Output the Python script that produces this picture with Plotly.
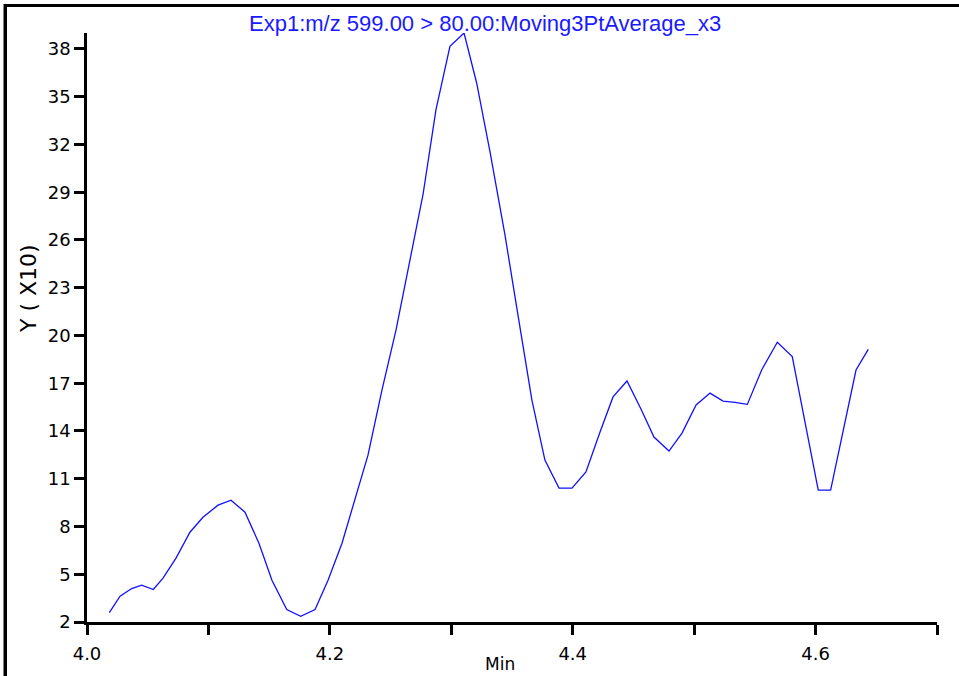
import plotly.graph_objects as go

# Retention time (min) and intensity (Y x10)
time_min = [4.0184, 4.0272, 4.0368, 4.0450, 4.0546, 4.0626, 4.0733, 4.0848, 4.0955, 4.1079,
            4.1186, 4.1301, 4.1416, 4.1523, 4.1645, 4.1760, 4.1878, 4.1985, 4.2100, 4.2207,
            4.2314, 4.2429, 4.2545, 4.2660, 4.2767, 4.2874, 4.2989, 4.3105, 4.3209, 4.3319,
            4.3442, 4.3549, 4.3664, 4.3771, 4.3887, 4.3994, 4.4109, 4.4225, 4.4332, 4.4447,
            4.4562, 4.4669, 4.4793, 4.4900, 4.5016, 4.5131, 4.5238, 4.5336, 4.5438, 4.5556,
            4.5685, 4.5808, 4.5913, 4.6022, 4.6124, 4.6215, 4.6333, 4.6434]
intensity = [2.59, 3.62, 4.10, 4.31, 4.04, 4.75, 6.01, 7.64, 8.58, 9.34,
             9.65, 8.90, 6.95, 4.62, 2.78, 2.36, 2.78, 4.62, 6.95, 9.65,
             12.48, 16.57, 20.35, 24.75, 28.84, 34.18, 38.16, 39.0, 35.86, 31.54,
             26.32, 21.29, 15.94, 12.17, 10.41, 10.41, 11.42, 13.93, 16.14, 17.14,
             15.38, 13.62, 12.74, 13.87, 15.63, 16.38, 15.88, 15.80, 15.67, 17.83,
             19.57, 18.67, 14.57, 10.28, 10.28, 13.53, 17.83, 19.13]

x_tick_vals = [4.0, 4.1, 4.2, 4.3, 4.4, 4.5, 4.6, 4.7]
x_tick_text = ["4.0", "", "4.2", "", "4.4", "", "4.6", ""]
y_tick_vals = [2, 5, 8, 11, 14, 17, 20, 23, 26, 29, 32, 35, 38]

title_text = "Exp1:m/z 599.00 > 80.00:Moving3PtAverage_x3"

W, H = 959, 676
L, R, T, B = 87, 22, 33, 54
pw, ph = W - L - R, H - T - B


def px_x(px):
    return (px - L) / pw


def px_y(py):
    return (H - B - py) / ph


fig = go.Figure()
fig.add_trace(go.Scatter(x=time_min, y=intensity, mode="lines",
                         line=dict(color="#1010ff", width=1.3),
                         showlegend=False, hoverinfo="x+y"))

tick_font = dict(family="DejaVu Sans", size=18, color="black")

fig.update_layout(
    width=W, height=H,
    margin=dict(l=L, r=R, t=T, b=B, pad=0),
    paper_bgcolor="white", plot_bgcolor="white",
    xaxis=dict(range=[4.0, 4.7], tickmode="array", tickvals=x_tick_vals, ticktext=x_tick_text,
               showgrid=False, zeroline=False, showline=True, linecolor="black", linewidth=2.5,
               ticks="outside", ticklen=10, tickwidth=2.5, tickcolor="black",
               tickfont=tick_font, ticklabelstandoff=4),
    yaxis=dict(range=[2, 39], tickmode="array", tickvals=y_tick_vals,
               showgrid=False, zeroline=False, showline=True, linecolor="black", linewidth=2.5,
               ticks="outside", ticklen=10, tickwidth=2.5, tickcolor="black",
               tickfont=tick_font, ticklabelstandoff=0),
    font=dict(family="DejaVu Sans"),
)

# outer frame (top and left edges visible, as in the reference)
fig.add_shape(type="line", xref="paper", yref="paper",
              x0=px_x(4), x1=px_x(W + 10), y0=px_y(5.5), y1=px_y(5.5),
              line=dict(color="black", width=3), layer="above")
fig.add_shape(type="line", xref="paper", yref="paper",
              x0=px_x(5), x1=px_x(5), y0=px_y(4), y1=px_y(H + 10),
              line=dict(color="black", width=3), layer="above")

fig.add_annotation(text=title_text, xref="paper", yref="paper",
                   x=px_x(485), y=px_y(23), xanchor="center", yanchor="middle",
                   showarrow=False, font=dict(family="Liberation Sans", size=22, color="#1a1aff"))

fig.add_annotation(text="Y ( X10)", xref="paper", yref="paper",
                   x=px_x(28), y=px_y(289), xanchor="center", yanchor="middle", textangle=-90,
                   showarrow=False, font=dict(family="DejaVu Sans", size=22, color="black"))

fig.add_annotation(text="Min", xref="paper", yref="paper",
                   x=px_x(500), y=px_y(652), xanchor="center", yanchor="top",
                   showarrow=False, font=dict(family="DejaVu Sans", size=17, color="black"))

post_js = (
    "document.documentElement.style.margin='0';"
    "document.body.style.margin='0';document.body.style.padding='0';"
    "window.scrollTo(0,0);"
    "var f=document.createElement('div');"
    "f.style.cssText='position:absolute;left:4px;top:4px;width:980px;height:700px;"
    "border-top:3px solid black;border-left:3px solid black;pointer-events:none;box-sizing:border-box;';"
    "document.body.appendChild(f);"
)

fig.write_html("out.html", config={"displayModeBar": False}, post_script=post_js)
